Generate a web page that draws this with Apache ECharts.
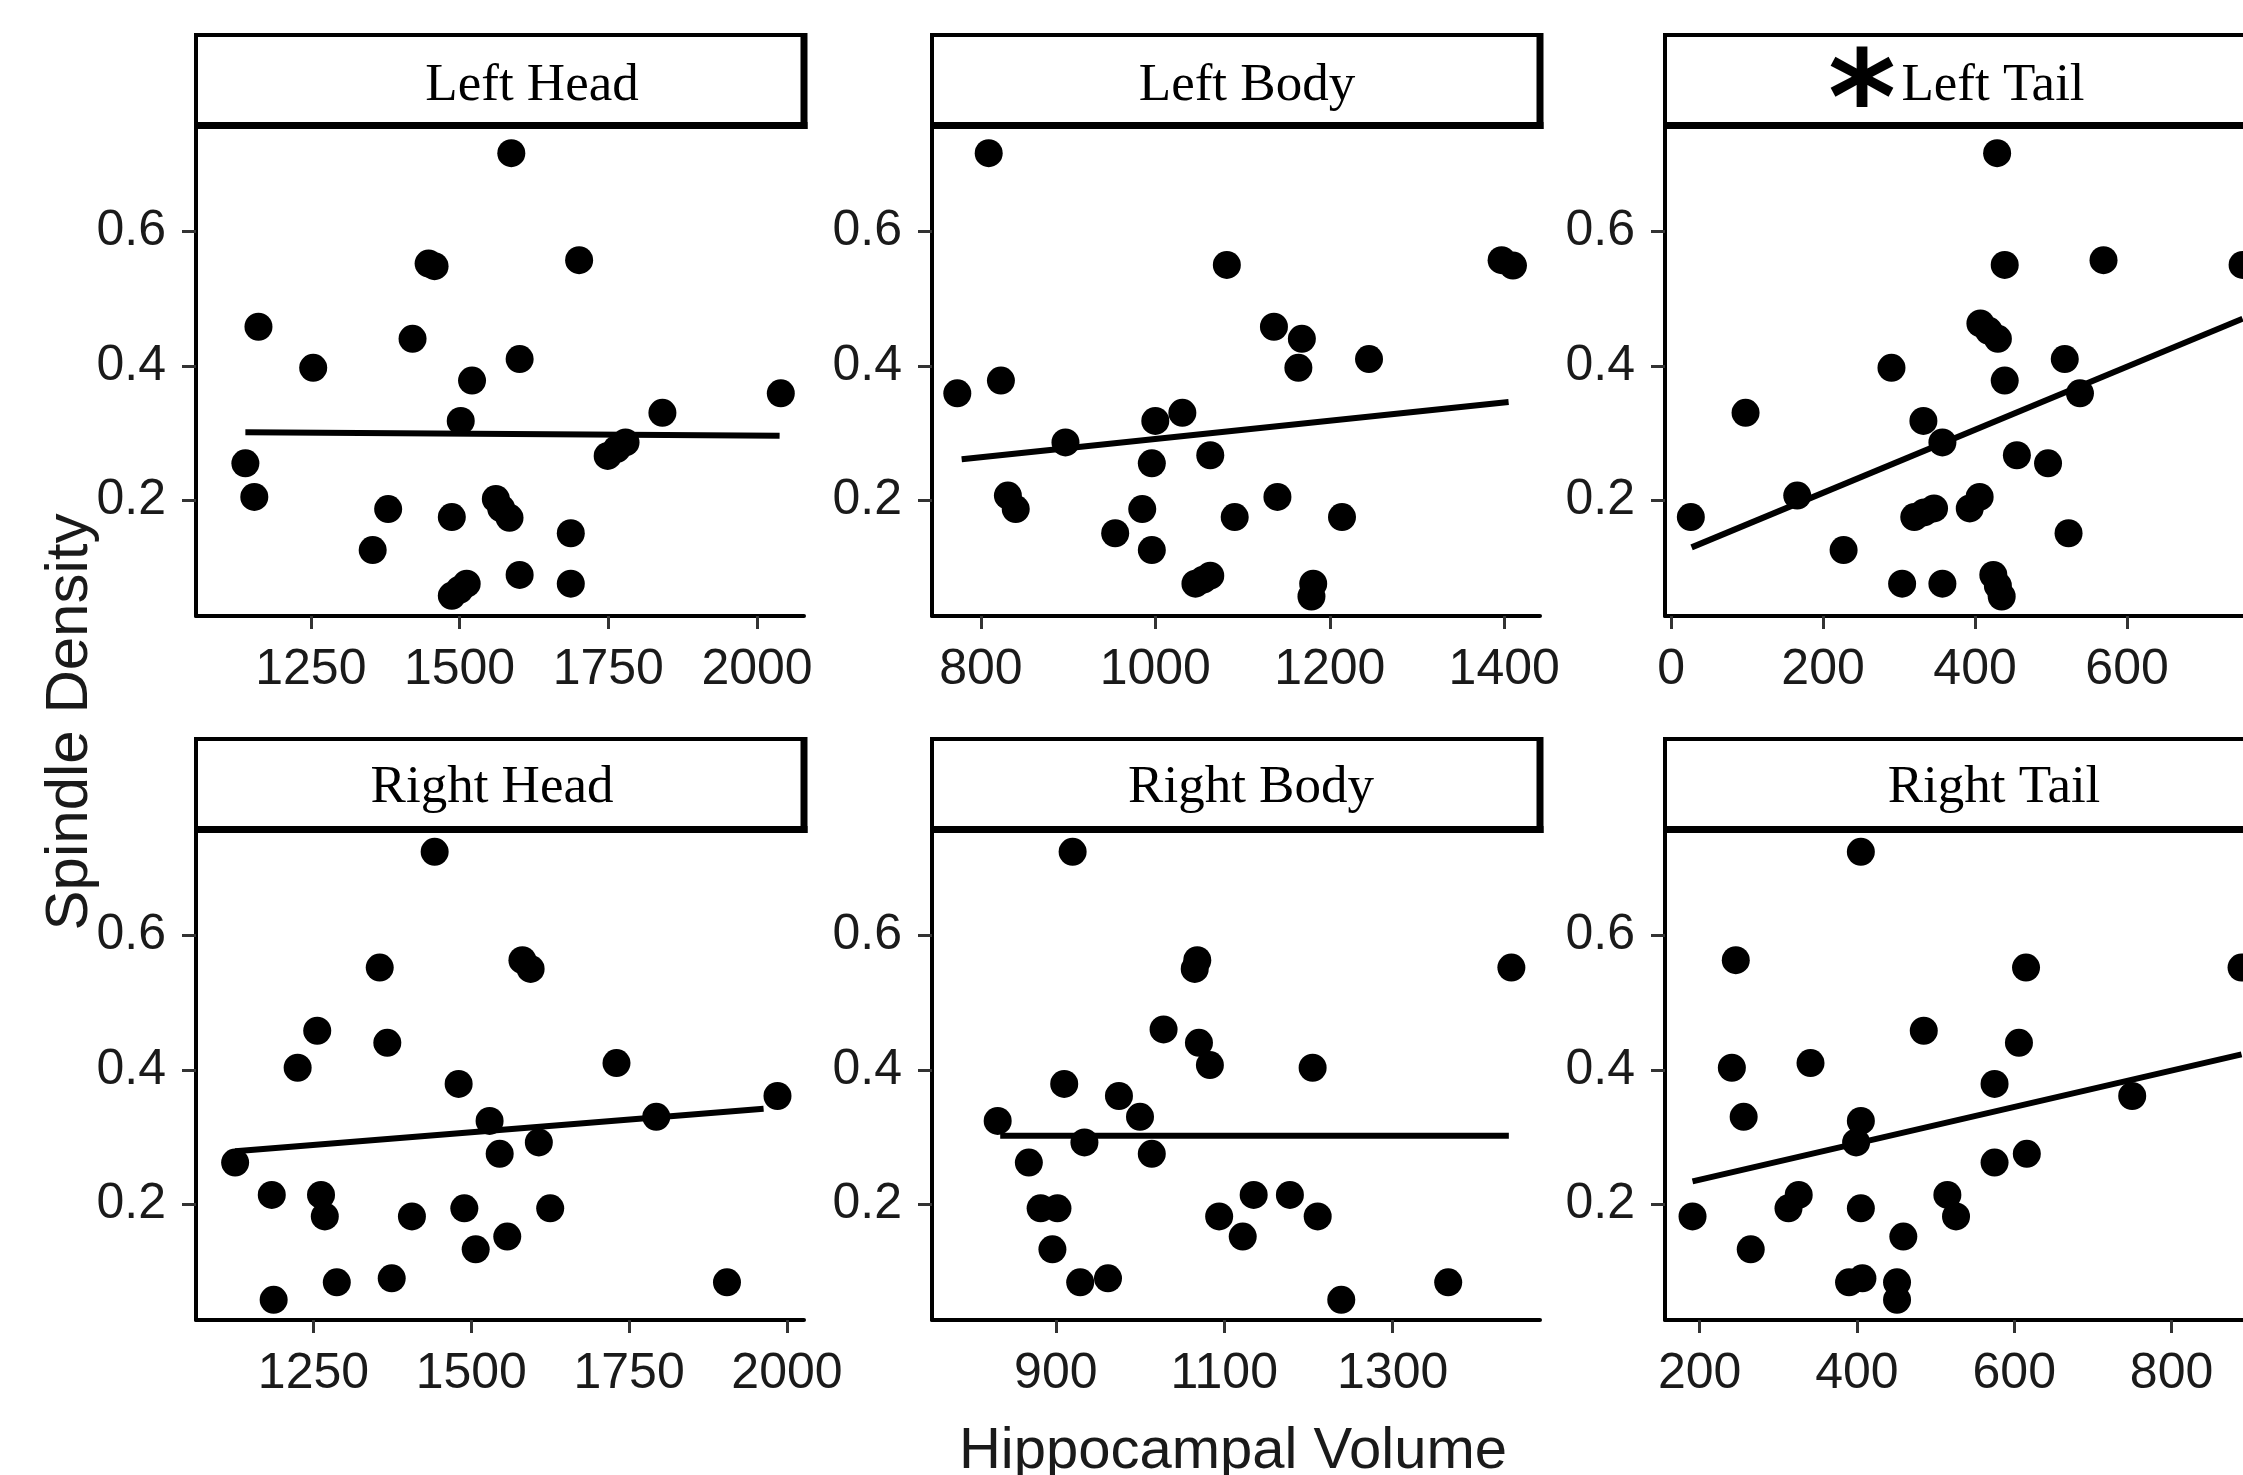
<!DOCTYPE html>
<html>
<head>
<meta charset="utf-8">
<title>Spindle density vs hippocampal volume</title>
<script src="https://cdn.jsdelivr.net/npm/echarts@6/dist/echarts.min.js"></script>
<style>
  html, body { margin: 0; padding: 0; background: #fff; }
  #main { width: 2243px; height: 1475px; }
</style>
</head>
<body>
<div id="main"></div>
<script>
// values: [volume, spindle density]
const leftHead = [
  [1587, 0.716], [1448, 0.552], [1458, 0.548], [1701, 0.557], [1162, 0.458], [1421, 0.440],
  [1254, 0.397], [1601, 0.410], [1521, 0.378], [2040, 0.359], [1502, 0.318], [1841, 0.330],
  [1749, 0.266], [1764, 0.276], [1779, 0.286], [1140, 0.255], [1155, 0.205], [1380, 0.187],
  [1487, 0.175], [1561, 0.202], [1570, 0.188], [1584, 0.174], [1687, 0.151], [1354, 0.126],
  [1601, 0.089], [1687, 0.076], [1487, 0.058], [1500, 0.067], [1512, 0.076]
];
const leftBody = [
  [809, 0.716], [773, 0.359], [823, 0.378], [1082, 0.550], [1397, 0.557], [1410, 0.549],
  [1136, 0.458], [1168, 0.440], [1164, 0.397], [1245, 0.410], [1000, 0.318], [1031, 0.330],
  [897, 0.286], [996, 0.255], [1063, 0.267], [831, 0.207], [840, 0.187], [985, 0.187],
  [954, 0.151], [996, 0.126], [1091, 0.175], [1140, 0.205], [1214, 0.175], [1046, 0.076],
  [1055, 0.082], [1063, 0.088], [1181, 0.076], [1179, 0.057]
];
const leftTail = [
  [429, 0.716], [439, 0.550], [569, 0.557], [752, 0.550], [407, 0.463], [418, 0.452],
  [430, 0.440], [290, 0.397], [518, 0.410], [439, 0.378], [98, 0.330], [332, 0.318],
  [357, 0.286], [538, 0.359], [455, 0.267], [496, 0.255], [166, 0.207], [26, 0.175],
  [320, 0.175], [333, 0.182], [346, 0.188], [393, 0.188], [406, 0.205], [523, 0.151],
  [227, 0.126], [304, 0.076], [357, 0.076], [424, 0.089], [430, 0.073], [435, 0.057]
];
const rightHead = [
  [1442, 0.724], [1355, 0.552], [1581, 0.563], [1594, 0.550], [1256, 0.458], [1367, 0.440],
  [1225, 0.403], [1480, 0.379], [1730, 0.410], [1985, 0.361], [1529, 0.324], [1793, 0.330],
  [1607, 0.292], [1545, 0.275], [1126, 0.262], [1184, 0.214], [1262, 0.214], [1268, 0.182],
  [1406, 0.182], [1489, 0.194], [1625, 0.194], [1557, 0.152], [1507, 0.133], [1287, 0.084],
  [1374, 0.090], [1187, 0.058], [1905, 0.084]
];
const rightBody = [
  [920, 0.724], [1068, 0.563], [1065, 0.550], [1441, 0.552], [1028, 0.460], [1070, 0.440],
  [1083, 0.407], [1205, 0.403], [910, 0.379], [975, 0.361], [831, 0.324], [1000, 0.330],
  [934, 0.292], [1014, 0.275], [868, 0.262], [882, 0.194], [902, 0.194], [896, 0.133],
  [1094, 0.182], [1135, 0.214], [1178, 0.214], [1211, 0.182], [1122, 0.152], [929, 0.084],
  [962, 0.090], [1239, 0.058], [1366, 0.084]
];
const rightTail = [
  [405, 0.724], [246, 0.563], [615, 0.552], [889, 0.552], [485, 0.458], [606, 0.440],
  [241, 0.403], [341, 0.410], [575, 0.379], [750, 0.361], [256, 0.330], [405, 0.324],
  [399, 0.292], [575, 0.262], [616, 0.275], [191, 0.182], [265, 0.133], [313, 0.194],
  [326, 0.214], [405, 0.194], [515, 0.214], [526, 0.182], [459, 0.152], [390, 0.084],
  [407, 0.090], [451, 0.084], [451, 0.058]
];

// fitted lines, end points
const leftHeadFit = [[1140, 0.301], [2038, 0.296]];
const leftBodyFit = [[778, 0.261], [1405, 0.346]];
const leftTailFit = [[27, 0.130], [752, 0.470]];
const rightHeadFit = [[1126, 0.279], [1963, 0.342]];
const rightBodyFit = [[834, 0.302], [1438, 0.302]];
const rightTailFit = [[191, 0.234], [889, 0.423]];

// tick labels
const headTicks = [1250, 1500, 1750, 2000];
const leftBodyTicks = [800, 1000, 1200, 1400];
const leftTailTicks = [0, 200, 400, 600];
const rightBodyTicks = [900, 1100, 1300];
const rightTailTicks = [200, 400, 600, 800];
const densityTicks = [0.2, 0.4, 0.6];

const panelNames = ['Left Head', 'Left Body', 'Left Tail', 'Right Head', 'Right Body', 'Right Tail'];

// x ranges of each panel (visible window)
const xRanges = [[1057, 2079], [744, 1441], [-8, 792], [1064, 2027], [753, 1475], [156, 929]];
const yRange = [0.028, 0.752];

const panels = [
  { pts: leftHead, fit: leftHeadFit, ticks: headTicks },
  { pts: leftBody, fit: leftBodyFit, ticks: leftBodyTicks },
  { pts: leftTail, fit: leftTailFit, ticks: leftTailTicks },
  { pts: rightHead, fit: rightHeadFit, ticks: headTicks },
  { pts: rightBody, fit: rightBodyFit, ticks: rightBodyTicks },
  { pts: rightTail, fit: rightTailFit, ticks: rightTailTicks }
];

// layout
const colLeft = [196, 932, 1665];
const rowTop = [129, 833];
const plotW = 608, plotH = 487;
const stripH = 97;
const labelX = [532, 1247, 1993, 492, 1251, 1994];

const tickFont = { fontSize: 50, color: '#1a1a1a', fontFamily: 'Liberation Sans, Arial, sans-serif' };

const grids = [], xAxes = [], yAxes = [], series = [], graphics = [];

panels.forEach((p, i) => {
  const c = i % 3, r = Math.floor(i / 3);
  const L = colLeft[c], T = rowTop[r];
  grids.push({ left: L, top: T, width: plotW, height: plotH, containLabel: false, outerBoundsMode: 'none' });
  xAxes.push({
    type: 'value', gridIndex: i, min: xRanges[i][0], max: xRanges[i][1],
    axisLine: { onZero: false, lineStyle: { color: '#000', width: 4 } },
    axisTick: { show: true, length: 13, customValues: p.ticks, lineStyle: { color: '#333', width: 3 } },
    axisLabel: Object.assign({ customValues: p.ticks, margin: 29, formatter: v => String(v) }, tickFont),
    splitLine: { show: false }
  });
  yAxes.push({
    type: 'value', gridIndex: i, min: yRange[0], max: yRange[1],
    axisLine: { show: true, onZero: false, lineStyle: { color: '#000', width: 4 } },
    axisTick: { show: true, length: 14, customValues: densityTicks, lineStyle: { color: '#333', width: 3 } },
    axisLabel: Object.assign({ customValues: densityTicks, margin: 30, formatter: v => v.toFixed(1) }, tickFont),
    splitLine: { show: false }
  });
  series.push({
    type: 'line', xAxisIndex: i, yAxisIndex: i, data: p.fit, symbol: 'none',
    lineStyle: { color: '#000', width: 6 }, z: 2, silent: true
  });
  series.push({
    type: 'scatter', xAxisIndex: i, yAxisIndex: i, data: p.pts, symbolSize: 28,
    itemStyle: { color: '#000', opacity: 1 }, z: 3
  });

  // facet strip
  const sTop = T - stripH;
  graphics.push({
    type: 'rect', shape: { x: L, y: sTop + 3, width: plotW, height: stripH - 6 },
    style: { fill: '#fff', stroke: '#000', lineWidth: 4 }, z: 10
  });
  graphics.push({
    type: 'line', shape: { x1: L + plotW, y1: sTop + 1, x2: L + plotW, y2: T },
    style: { stroke: '#000', lineWidth: 7 }, z: 11
  });
  graphics.push({
    type: 'line', shape: { x1: L - 2, y1: T - 3.5, x2: L + plotW + 3.5, y2: T - 3.5 },
    style: { stroke: '#000', lineWidth: 7 }, z: 11
  });
  graphics.push({
    type: 'text', x: labelX[i], y: T - 45 + (r === 0 ? 2 : 0), z: 12,
    style: {
      text: panelNames[i], fill: '#000', fontSize: 53,
      fontFamily: 'Liberation Serif, Times New Roman, serif',
      textAlign: 'center', textVerticalAlign: 'middle'
    }
  });
});

// significance mark on Left Tail
graphics.push({
  type: 'text', x: 1862, y: 109, z: 12,
  style: {
    text: '*', fill: '#000', fontSize: 130, fontWeight: 'bold',
    fontFamily: 'DejaVu Sans, sans-serif', textAlign: 'center', textVerticalAlign: 'middle'
  }
});

// axis titles
graphics.push({
  type: 'text', x: 70, y: 722, rotation: Math.PI / 2, z: 12,
  style: {
    text: 'Spindle Density', fill: '#1a1a1a', fontSize: 60,
    fontFamily: 'Liberation Sans, Arial, sans-serif', textAlign: 'center', textVerticalAlign: 'middle'
  }
});
graphics.push({
  type: 'text', x: 1233, y: 1452, z: 12,
  style: {
    text: 'Hippocampal Volume', fill: '#1a1a1a', fontSize: 58,
    fontFamily: 'Liberation Sans, Arial, sans-serif', textAlign: 'center', textVerticalAlign: 'middle'
  }
});

const chart = echarts.init(document.getElementById('main'), null, { renderer: 'canvas' });
chart.setOption({
  backgroundColor: '#fff',
  animation: false,
  grid: grids,
  xAxis: xAxes,
  yAxis: yAxes,
  series: series,
  graphic: graphics
});
</script>
</body>
</html>
